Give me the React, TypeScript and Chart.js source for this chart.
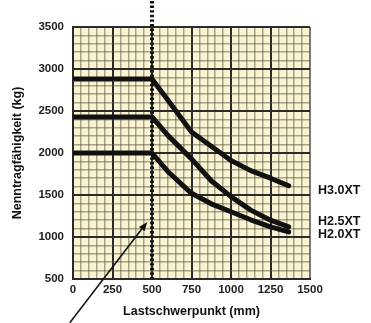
import React, { useEffect, useRef } from "react";
import { Chart, registerables } from "chart.js";

Chart.register(...registerables);

// ---- data ----
const loadCenterMm = [0, 500, 600, 750, 875, 1000, 1125, 1250, 1365];
const capacityH30 = [2880, 2880, 2630, 2250, 2080, 1910, 1790, 1700, 1610];
const capacityH25 = [2430, 2430, 2210, 1930, 1670, 1480, 1320, 1200, 1120];
const capacityH20 = [2000, 2000, 1780, 1520, 1395, 1300, 1205, 1120, 1060];
const seriesNames = ["H3.0XT", "H2.5XT", "H2.0XT"];
const seriesLabelValues = [1550, 1180, 1035];
const referenceLoadCenter = 500;
const arrowTail = { x: -20, y: -20 };
const arrowTip = { x: 470, y: 1180 };
const xTitle = "Lastschwerpunkt (mm)";
const yTitle = "Nenntragfähigkeit (kg)";

const TICK_FONT = '"Liberation Sans Narrow", "Liberation Sans", Arial, sans-serif';
const TITLE_FONT = '"Liberation Sans", Arial, sans-serif';

const decorPlugin = {
  id: "decor",
  beforeDraw(chart: any) {
    const { ctx, chartArea } = chart;
    ctx.save();
    ctx.fillStyle = "#fff";
    ctx.fillRect(0, 0, chart.width, chart.height);
    ctx.fillStyle = "#FBF4D3";
    ctx.fillRect(chartArea.left, chartArea.top, chartArea.right - chartArea.left, chartArea.bottom - chartArea.top);
    ctx.restore();
  },
  afterDatasetsDraw(chart: any) {
    const { ctx, chartArea, scales } = chart;
    const x = scales.x.getPixelForValue(referenceLoadCenter);
    ctx.save();
    ctx.strokeStyle = "#111";
    ctx.lineWidth = 4;
    ctx.setLineDash([2.4, 2.2]);
    ctx.beginPath();
    ctx.moveTo(x, 1);
    ctx.lineTo(x, chartArea.bottom);
    ctx.stroke();
    ctx.restore();
  },
  afterDraw(chart: any) {
    const { ctx, chartArea, scales } = chart;
    ctx.save();
    ctx.fillStyle = "#111";
    ctx.font = `bold 12.5px ${TITLE_FONT}`;
    ctx.textAlign = "left";
    ctx.textBaseline = "middle";
    seriesNames.forEach((n, i) => {
      ctx.fillText(n, chartArea.right + 8, scales.y.getPixelForValue(seriesLabelValues[i]));
    });
    const x0 = scales.x.getPixelForValue(arrowTail.x);
    const y0 = scales.y.getPixelForValue(arrowTail.y);
    const x1 = scales.x.getPixelForValue(arrowTip.x);
    const y1 = scales.y.getPixelForValue(arrowTip.y);
    const ang = Math.atan2(y1 - y0, x1 - x0);
    const len = 9;
    const hw = 3.5;
    const bx = x1 - len * Math.cos(ang);
    const by = y1 - len * Math.sin(ang);
    ctx.strokeStyle = "#111";
    ctx.lineWidth = 1.6;
    ctx.beginPath();
    ctx.moveTo(x0, y0);
    ctx.lineTo(bx, by);
    ctx.stroke();
    ctx.beginPath();
    ctx.moveTo(x1, y1);
    ctx.lineTo(bx + hw * Math.sin(ang), by - hw * Math.cos(ang));
    ctx.lineTo(bx - hw * Math.sin(ang), by + hw * Math.cos(ang));
    ctx.closePath();
    ctx.fill();
    ctx.restore();
  },
};

const mkDataset = (vals: number[]) => ({
  data: loadCenterMm.map((x, i) => ({ x, y: vals[i] })),
  borderColor: "#111",
  backgroundColor: "#111",
  borderWidth: 5,
  pointRadius: 0,
  borderCapStyle: "round",
  borderJoinStyle: "round",
  tension: 0,
  fill: false,
});

const minorColor = "rgba(85,80,62,0.5)";
const majorColor = "#2b2b2b";

export default function App() {
  const ref = useRef<HTMLCanvasElement>(null);
  useEffect(() => {
    const canvas = ref.current!;
    const chart = new Chart(canvas, {
      type: "line",
      data: {
        datasets: [mkDataset(capacityH30), mkDataset(capacityH25), mkDataset(capacityH20)] as any,
      },
      options: {
        responsive: false,
        animation: false,
        layout: { padding: { top: 27, right: 61, left: 0, bottom: 0 } },
        plugins: { legend: { display: false }, tooltip: { enabled: false } },
        scales: {
          x: {
            type: "linear",
            min: 0,
            max: 1500,
            afterFit: (s: any) => {
              s.height = 44;
            },
            ticks: {
              stepSize: 50,
              autoSkip: false,
              maxRotation: 0,
              padding: 4,
              color: "#222",
              font: { family: TICK_FONT, size: 11.5, weight: "bold" },
              callback: (v: any) => (Number(v) % 250 === 0 ? String(v) : ""),
            },
            grid: {
              drawTicks: false,
              color: (c: any) =>
                c.tick && c.tick.value === 1500 ? "#777" : c.tick && c.tick.value % 250 === 0 ? majorColor : minorColor,
              lineWidth: (c: any) => (c.tick && c.tick.value % 250 === 0 ? 2 : 1.5),
            },
            border: { display: true, color: majorColor, width: 2 },
            title: {
              display: true,
              text: xTitle,
              color: "#111",
              font: { family: TITLE_FONT, size: 12.5, weight: "bold" },
              padding: { top: 0, bottom: 4 },
            },
          },
          y: {
            type: "linear",
            min: 500,
            max: 3500,
            afterFit: (s: any) => {
              s.width = 73;
            },
            ticks: {
              stepSize: 100,
              autoSkip: false,
              padding: 9,
              color: "#222",
              font: { family: TICK_FONT, size: 11.5, weight: "bold" },
              callback: (v: any) => (Number(v) % 500 === 0 ? String(v) : ""),
            },
            grid: {
              drawTicks: false,
              color: (c: any) => (c.tick && c.tick.value % 500 === 0 ? majorColor : minorColor),
              lineWidth: (c: any) => (c.tick && c.tick.value % 500 === 0 ? 2 : 1.5),
            },
            border: { display: true, color: majorColor, width: 2 },
            title: {
              display: true,
              text: yTitle,
              color: "#111",
              font: { family: TITLE_FONT, size: 12.5, weight: "bold" },
              padding: { top: 10, bottom: 0 },
            },
          },
        },
      } as any,
      plugins: [decorPlugin],
    });
    return () => chart.destroy();
  }, []);
  return (
    <div style={{ position: "absolute", left: 0, top: 0, width: 371, height: 323, background: "#fff" }}>
      <canvas ref={ref} width={371} height={323} style={{ display: "block" }} />
    </div>
  );
}
